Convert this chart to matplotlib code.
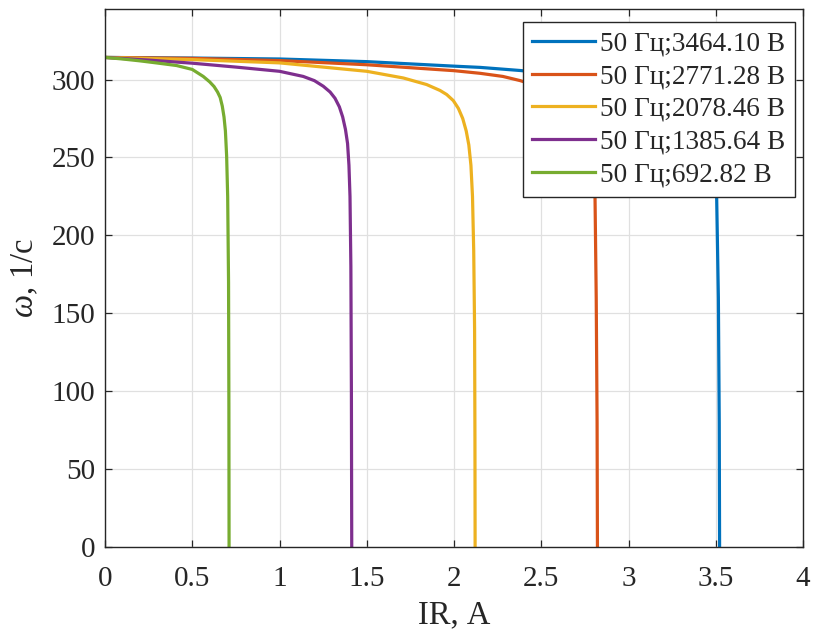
import matplotlib
matplotlib.use("Agg")
import matplotlib.pyplot as plt

plt.rcParams['font.family'] = ['Liberation Serif', 'DejaVu Serif']
plt.rcParams['mathtext.fontset'] = 'custom'
plt.rcParams['mathtext.rm'] = 'Liberation Serif'
plt.rcParams['mathtext.it'] = 'Liberation Serif:italic'

labels = ["50 Гц;3464.10 В", "50 Гц;2771.28 В", "50 Гц;2078.46 В",
          "50 Гц;1385.64 В", "50 Гц;692.82 В"]
colors = ["#0072BD", "#D95319", "#EDB120", "#7E2F8E", "#77AC30"]

i_blue = [0, 0.5, 1.0, 1.5, 2.0, 2.15, 2.38, 2.7, 3.0, 3.2, 3.32, 3.4, 3.46, 3.49, 3.505, 3.515, 3.52, 3.522]
w_blue = [314.2, 313.8, 313.2, 311.5, 308.6, 307.8, 305.8, 302, 297, 291, 284, 274, 260, 245, 226, 160, 80, 0]

i_orange = [0, 0.5, 1.0, 1.5, 2.0, 2.15, 2.28, 2.38, 2.5, 2.6, 2.68, 2.74, 2.78, 2.80, 2.808, 2.815, 2.82, 2.822]
w_orange = [314.2, 313.6, 312.2, 309.5, 305.7, 304.0, 302.0, 299.3, 295, 290, 283, 272, 258, 240, 226, 160, 80, 0]

i_yellow = [0, 0.5, 1.0, 1.5, 1.71, 1.843, 1.92, 1.958, 1.996, 2.025, 2.05, 2.07, 2.085, 2.097, 2.106, 2.113, 2.118, 2.12, 2.121]
w_yellow = [314.2, 312.8, 310.7, 305.3, 301.0, 296.8, 293.0, 290.4, 286.5, 281.5, 275, 267, 258, 245, 225, 190, 140, 70, 0]

i_purple = [0, 0.25, 0.5, 0.75, 1.0, 1.136, 1.2, 1.251, 1.29, 1.318, 1.343, 1.362, 1.378, 1.39, 1.398, 1.404, 1.409, 1.412, 1.414]
w_purple = [314.2, 312.5, 310.5, 308.0, 305.3, 302.0, 299.3, 295.7, 292.0, 288.0, 282.5, 276, 268, 259, 245, 225, 180, 100, 0]

i_green = [0, 0.1, 0.2, 0.3, 0.41, 0.5, 0.563, 0.6, 0.625, 0.645, 0.66, 0.672, 0.682, 0.69, 0.697, 0.703, 0.708, 0.71, 0.711]
w_green = [314.2, 313.2, 312.0, 310.6, 309.0, 306.5, 302.0, 298.5, 295.5, 292.0, 288.5, 283, 276, 267, 251, 225, 170, 90, 0]

series_i = [i_blue, i_orange, i_yellow, i_purple, i_green]
series_w = [w_blue, w_orange, w_yellow, w_purple, w_green]

xticks = [0, 0.5, 1, 1.5, 2, 2.5, 3, 3.5, 4]
xticklabels = ["0", "0.5", "1", "1.5", "2", "2.5", "3", "3.5", "4"]
yticks = [0, 50, 100, 150, 200, 250, 300]

fig = plt.figure(figsize=(8.16, 6.37), dpi=100)
ax = fig.add_axes([105/816, 1-547/637, 698/816, (547-8.5)/637])

for xi, wi, c, lab in zip(series_i, series_w, colors, labels):
    ax.plot(xi, wi, color=c, lw=2.3, label=lab, solid_joinstyle='round')

ax.set_xlim(0, 4)
ax.set_ylim(0, 345.6)
ax.set_xticks(xticks)
ax.set_xticklabels(xticklabels)
ax.set_yticks(yticks)
ax.grid(True, color='#e0e0e0', lw=0.9)
ax.set_axisbelow(True)
for s in ax.spines.values():
    s.set_color('#262626')
    s.set_linewidth(1.0)
ax.tick_params(direction='in', length=5, width=0.9, color='#262626',
               top=True, right=True, labelsize=21, labelcolor='#262626')
ax.tick_params(axis='x', pad=14)
ax.tick_params(axis='y', pad=7)

ax.set_xlabel("IR, А", fontsize=23.5, color='#262626', labelpad=5)
ax.set_ylabel(r"$\mathit{\omega}$, 1/с", fontsize=23.5, color='#262626', labelpad=8)

leg = ax.legend(loc='upper right', bbox_to_anchor=((795-105)/698, 1-(22-8.5)/538.5),
                borderaxespad=0, fontsize=19.6, fancybox=False, framealpha=1,
                edgecolor='#262626', handlelength=2.3, labelspacing=0.28,
                handletextpad=0.2, borderpad=0.35)
leg.get_frame().set_linewidth(1.0)
for t in leg.get_texts():
    t.set_color('#262626')

fig.savefig("out.png", dpi=100)
